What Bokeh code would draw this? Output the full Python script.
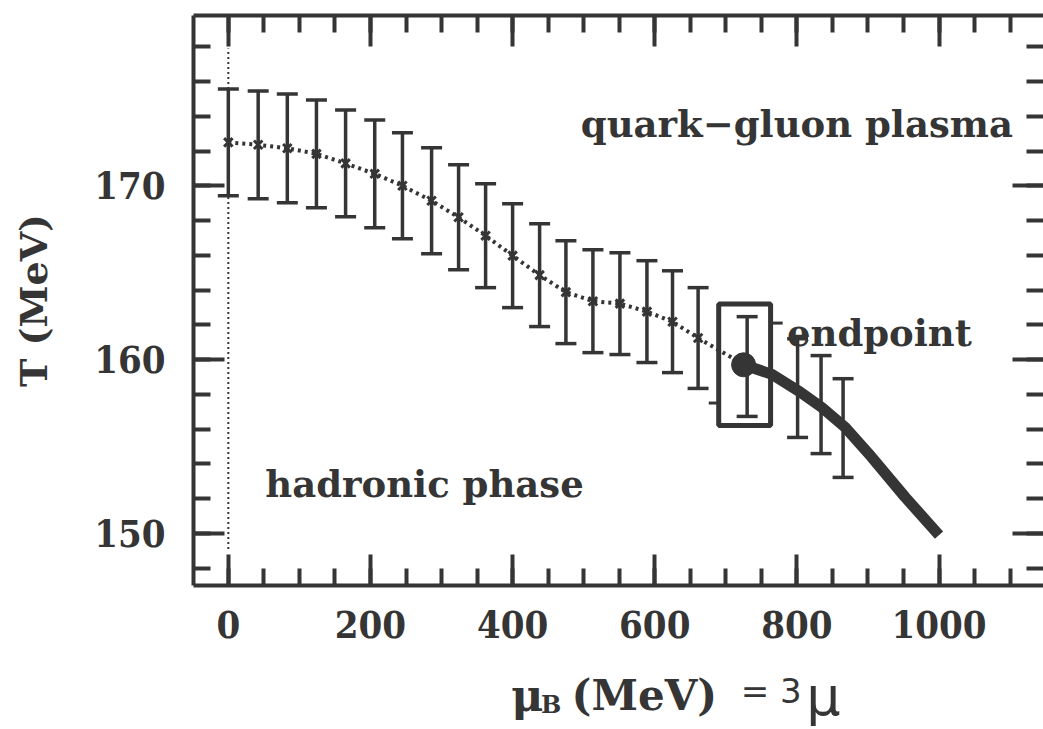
from bokeh.plotting import figure
from bokeh.layouts import column
from bokeh.models import (ColumnDataSource, Whisker, TeeHead, Label, LinearAxis,
                          SingleIntervalTicker, Range1d)
from bokeh.core.properties import value
from bokeh.embed import file_html
from bokeh.resources import INLINE

# ---------------- data ----------------
mu_B = [0, 42, 83, 124, 165, 206, 245, 286, 324, 362, 400, 438, 475, 513,
        551, 589, 625, 661, 730, 801, 834, 865]
T_c = [172.50, 172.36, 172.16, 171.84, 171.29, 170.69, 170.00, 169.14, 168.19,
       167.13, 165.98, 164.86, 163.88, 163.36, 163.22, 162.76, 162.18, 161.24,
       159.60, 158.36, 157.41, 156.06]
T_err = [3.07, 3.10, 3.13, 3.10, 3.07, 3.10, 3.05, 3.05, 3.02, 2.99, 2.99, 2.96,
         2.96, 2.96, 2.93, 2.93, 2.93, 2.90, 2.87, 2.84, 2.82, 2.84]
ENDPOINT = 18  # index of the endpoint point

curve_mu = [725, 765, 802, 835, 868, 905, 952, 1000]
curve_T = [159.7, 159.15, 158.2, 157.25, 156.1, 154.4, 152.1, 149.9]

box_mu = [690, 763]
box_T = [156.2, 163.2]
stub_T = [157.5, 162.1]

zero_mu = [0, 0]
zero_T = [149.1, 177.9]

x_tick_step = 200
y_tick_step = 10

INK = "#353535"
SERIF = "DejaVu Serif"
TICKFONT = "DejaVu Serif Condensed"

W = 1043
H_MAIN = 655
H_TITLE = 74

# ---------------- main figure ----------------
x_range = Range1d(-49, 1147)
p = figure(width=W, height=H_MAIN,
           x_range=x_range, y_range=Range1d(147, 179.8),
           output_backend="svg", toolbar_location=None,
           min_border_left=193, min_border_right=0,
           min_border_top=15, min_border_bottom=H_MAIN - 585,
           background_fill_color="white", border_fill_color="white",
           outline_line_color=None)
p.grid.visible = False


def style_axis(ax, labels=True):
    ax.axis_line_width = 4
    ax.axis_line_color = INK
    ax.major_tick_in = 31
    ax.major_tick_out = 0
    ax.minor_tick_in = 17
    ax.minor_tick_out = 0
    ax.major_tick_line_width = 4
    ax.minor_tick_line_width = 4
    ax.major_tick_line_color = INK
    ax.minor_tick_line_color = INK
    if labels:
        ax.major_label_text_font = TICKFONT
        ax.major_label_text_font_size = "38px"
        ax.major_label_text_font_style = "bold"
        ax.major_label_text_color = INK
    else:
        ax.major_label_text_font_size = "1px"
        ax.major_label_text_color = None
        ax.major_label_standoff = 0


xb = p.xaxis[0]
yl = p.yaxis[0]
xb.ticker = SingleIntervalTicker(interval=x_tick_step, num_minor_ticks=4)
yl.ticker = SingleIntervalTicker(interval=y_tick_step, num_minor_ticks=5)
style_axis(xb)
style_axis(yl)
xb.major_label_standoff = 25
yl.major_label_standoff = 28

yl.axis_label = "T (MeV)"
yl.axis_label_text_font = SERIF
yl.axis_label_text_font_size = "38px"
yl.axis_label_text_font_style = "bold"
yl.axis_label_text_color = INK
yl.axis_label_standoff = 35

xt = LinearAxis(ticker=SingleIntervalTicker(interval=x_tick_step, num_minor_ticks=4))
style_axis(xt, labels=False)
p.add_layout(xt, "above")

yr = LinearAxis(ticker=SingleIntervalTicker(interval=y_tick_step, num_minor_ticks=5))
style_axis(yr, labels=False)
yr.axis_line_color = None
p.add_layout(yr, "right")

# ---------------- glyphs ----------------
src = ColumnDataSource(dict(
    x=mu_B, T=T_c,
    lo=[t - e for t, e in zip(T_c, T_err)],
    hi=[t + e for t, e in zip(T_c, T_err)],
))

p.line(zero_mu, zero_T, line_dash="2 3", line_width=2, color=INK)

whisk = Whisker(source=src, base="x", upper="hi", lower="lo", dimension="height",
                line_width=3.5, line_color=INK,
                upper_head=TeeHead(size=21, line_width=3.5, line_color=INK),
                lower_head=TeeHead(size=21, line_width=3.5, line_color=INK))
p.add_layout(whisk)

p.line(mu_B[:ENDPOINT + 1], T_c[:ENDPOINT + 1], line_dash="3 4", line_width=4,
       color=INK)
p.scatter(mu_B[:ENDPOINT], T_c[:ENDPOINT], marker="x", size=12, line_width=3,
          color=INK)

p.line(curve_mu, curve_T, line_width=11, color=INK, line_cap="butt",
       line_join="round")
p.scatter([curve_mu[0]], [curve_T[0]], marker="circle", size=24, color=INK)

p.quad(left=[box_mu[0]], right=[box_mu[1]], bottom=[box_T[0]], top=[box_T[1]],
       fill_color=None, line_color=INK, line_width=5)
p.segment(x0=[box_mu[0] - 14, box_mu[1]], y0=stub_T,
          x1=[box_mu[0], box_mu[1] + 17], y1=stub_T,
          line_width=3, color=INK)


def lab(x, y, text, size, style="bold", font=SERIF, color=INK):
    p.add_layout(Label(x=x, y=y, text=text, text_font=font,
                       text_font_size=size, text_font_style=style,
                       text_color=color, text_baseline="alphabetic",
                       text_align="left"))


lab(496, 173.57, "quark\u2212gluon plasma", "37px")
lab(786, 161.54, "endpoint", "37px")
lab(52, 152.85, "hadronic phase", "37px")

# ---------------- x-axis title strip (same x scale) ----------------
t = figure(width=W, height=H_TITLE, x_range=x_range, y_range=Range1d(0, H_TITLE),
           output_backend="svg", toolbar_location=None,
           x_axis_location=None, y_axis_location=None,
           min_border_left=193, min_border_right=0,
           min_border_top=0, min_border_bottom=0,
           background_fill_color="white", border_fill_color="white",
           outline_line_color=None)
t.grid.visible = False

title_parts = [
    # (x in MeV, y in px from strip bottom, text, size, style, font)
    (398, 34, "\u03bc", "44px", "bold", SERIF),
    (440, 25, "B", "24px", "bold", SERIF),
    (483, 34, "(MeV)", "42px", "bold", SERIF),
    (721, 39, "= 3", "34px", "normal", "DejaVu Sans"),
    (813, 33, "\u03bc", "54px", "normal", "DejaVu Sans"),
]
for (tx, ty, tt, ts, st, fn) in title_parts:
    t.text(x=[tx], y=[ty], text=[tt], text_font=value(fn), text_font_size=ts,
           text_font_style=st, text_color=INK, text_baseline="alphabetic",
           text_align="left")

layout = column(p, t, spacing=0)
open("out.html", "w").write(file_html(layout, INLINE))
